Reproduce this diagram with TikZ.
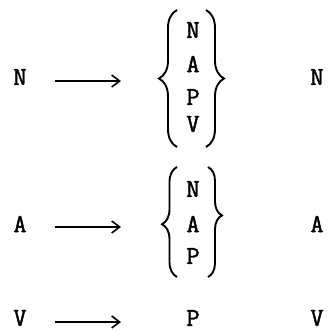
\documentclass[tikz,border=0pt]{standalone}
\usepackage{fontspec}
\newfontfamily\twfont{Latin Modern Mono}[FakeBold=1.6]
\usetikzlibrary{arrows.meta,decorations.pathreplacing}
\begin{document}
\begin{tikzpicture}[x=1bp,y=-1bp,
  lt/.style={font=\fontsize{26}{28}\twfont, inner sep=0pt, anchor=center},
  arr/.style={line width=1.6bp, -{Straight Barb[length=8bp,width=12bp,line width=1.6bp]}},
  lbrace/.style={line width=1.9bp, decorate, decoration={brace, amplitude=18bp, aspect=0.5}},
]
\useasboundingbox (0,0) rectangle (331,331);
% left column
\node[lt] (l1) at (20,77) {N};
\node[lt] (l2) at (20,224) {A};
\node[lt] (l3) at (20,318) {V};
% right column
\node[lt] (r1) at (317,77) {N};
\node[lt] (r2) at (317,224) {A};
\node[lt] (r3) at (317,318) {V};
% group 1
\node[lt] (g1n) at (193,30) {N};
\node[lt] (g1a) at (193,64) {A};
\node[lt] (g1p) at (193,97) {P};
\node[lt] (g1v) at (193,124) {V};
% group 2
\node[lt] (g2n) at (193,189) {N};
\node[lt] (g2a) at (193,224) {A};
\node[lt] (g2p) at (193,256) {P};
% row 3
\node[lt] (g3p) at (193,318) {P};
% braces
\draw[lbrace] (177,147) -- (177,10);
\draw[lbrace] (206,10) -- (206,147);
\draw[lbrace, decoration={brace, amplitude=15bp, aspect=0.48}] (177,277) -- (177,167);
\draw[lbrace, decoration={brace, amplitude=14bp, aspect=0.44}] (208,167) -- (208,277);
% arrows
\coordinate (s1) at (55,81);
\coordinate (e1) at (121,81);
\coordinate (s2) at (55,227);
\coordinate (e2) at (121,227);
\coordinate (s3) at (55,322);
\coordinate (e3) at (121,322);
\draw[arr] (s1) -- (e1);
\draw[arr] (s2) -- (e2);
\draw[arr] (s3) -- (e3);
\end{tikzpicture}
\end{document}
